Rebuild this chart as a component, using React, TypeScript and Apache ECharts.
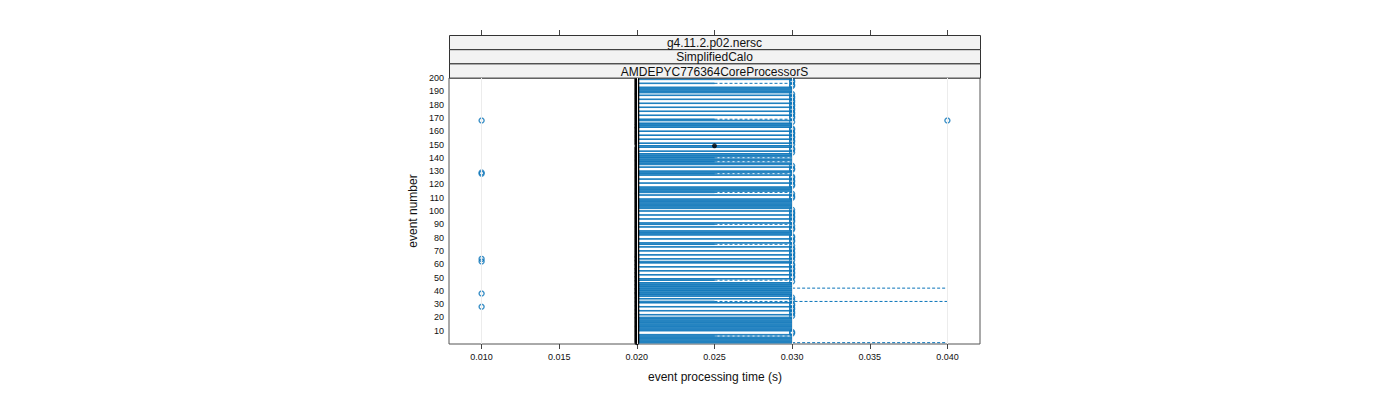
import { useEffect, useRef } from 'react';
import * as echarts from 'echarts';

const FONT = 'Liberation Sans, Arial, sans-serif';
const BLUE = '#0a74b9';

const xTicks = [0.01, 0.015, 0.02, 0.025, 0.03, 0.035, 0.04];
const yTicks = [10, 20, 30, 40, 50, 60, 70, 80, 90, 100, 110, 120, 130, 140, 150, 160, 170, 180, 190, 200];
const stripLabels = ['g4.11.2.p02.nersc', 'SimplifiedCalo', 'AMDEPYC776364CoreProcessorS'];
const xTitle = 'event processing time (s)';
const yTitle = 'event number';

const eventNumbers = Array.from({ length: 200 }, (_, i) => i + 1);

const lowerHinge = [
  0.02, 0.02, 0.02, 0.02, 0.02, 0.02, 0.02, 0.02, 0.02, 0.02, 0.02, 0.02, 0.02, 0.02, 0.02, 0.02, 0.02, 0.02, 0.02, 0.02,
  0.02, 0.02, 0.02, 0.02, 0.02, 0.02, 0.02, 0.02, 0.02, 0.02, 0.02, 0.02, 0.02, 0.02, 0.02, 0.02, 0.02, 0.02, 0.02, 0.02,
  0.02, 0.02, 0.02, 0.02, 0.02, 0.02, 0.02, 0.02, 0.02, 0.02, 0.02, 0.02, 0.02, 0.02, 0.02, 0.02, 0.02, 0.02, 0.02, 0.02,
  0.02, 0.02, 0.02, 0.02, 0.02, 0.02, 0.02, 0.02, 0.02, 0.02, 0.02, 0.02, 0.02, 0.02, 0.02, 0.02, 0.02, 0.02, 0.02, 0.02,
  0.02, 0.02, 0.02, 0.02, 0.02, 0.02, 0.02, 0.02, 0.02, 0.02, 0.02, 0.02, 0.02, 0.02, 0.02, 0.02, 0.02, 0.02, 0.02, 0.02,
  0.02, 0.02, 0.02, 0.02, 0.02, 0.02, 0.02, 0.02, 0.02, 0.02, 0.02, 0.02, 0.02, 0.02, 0.02, 0.02, 0.02, 0.02, 0.02, 0.02,
  0.02, 0.02, 0.02, 0.02, 0.02, 0.02, 0.02, 0.02, 0.02, 0.02, 0.02, 0.02, 0.02, 0.02, 0.02, 0.02, 0.02, 0.02, 0.02, 0.02,
  0.02, 0.02, 0.02, 0.02, 0.02, 0.02, 0.02, 0.02, 0.02, 0.02, 0.02, 0.02, 0.02, 0.02, 0.02, 0.02, 0.02, 0.02, 0.02, 0.02,
  0.02, 0.02, 0.02, 0.02, 0.02, 0.02, 0.02, 0.02, 0.02, 0.02, 0.02, 0.02, 0.02, 0.02, 0.02, 0.02, 0.02, 0.02, 0.02, 0.02,
  0.02, 0.02, 0.02, 0.02, 0.02, 0.02, 0.02, 0.02, 0.02, 0.02, 0.02, 0.02, 0.02, 0.02, 0.02, 0.02, 0.02, 0.02, 0.02, 0.02,
];

const medianValue = [
  0.02, 0.02, 0.02, 0.02, 0.02, 0.02, 0.02, 0.02, 0.02, 0.02, 0.02, 0.02, 0.02, 0.02, 0.02, 0.02, 0.02, 0.02, 0.02, 0.02,
  0.02, 0.02, 0.02, 0.02, 0.02, 0.02, 0.02, 0.02, 0.02, 0.02, 0.02, 0.02, 0.02, 0.02, 0.02, 0.02, 0.02, 0.02, 0.02, 0.02,
  0.02, 0.02, 0.02, 0.02, 0.02, 0.02, 0.02, 0.02, 0.02, 0.02, 0.02, 0.02, 0.02, 0.02, 0.02, 0.02, 0.02, 0.02, 0.02, 0.02,
  0.02, 0.02, 0.02, 0.02, 0.02, 0.02, 0.02, 0.02, 0.02, 0.02, 0.02, 0.02, 0.02, 0.02, 0.02, 0.02, 0.02, 0.02, 0.02, 0.02,
  0.02, 0.02, 0.02, 0.02, 0.02, 0.02, 0.02, 0.02, 0.02, 0.02, 0.02, 0.02, 0.02, 0.02, 0.02, 0.02, 0.02, 0.02, 0.02, 0.02,
  0.02, 0.02, 0.02, 0.02, 0.02, 0.02, 0.02, 0.02, 0.02, 0.02, 0.02, 0.02, 0.02, 0.02, 0.02, 0.02, 0.02, 0.02, 0.02, 0.02,
  0.02, 0.02, 0.02, 0.02, 0.02, 0.02, 0.02, 0.02, 0.02, 0.02, 0.02, 0.02, 0.02, 0.02, 0.02, 0.02, 0.02, 0.02, 0.02, 0.02,
  0.02, 0.02, 0.02, 0.02, 0.02, 0.02, 0.02, 0.02, 0.025, 0.02, 0.02, 0.02, 0.02, 0.02, 0.02, 0.02, 0.02, 0.02, 0.02, 0.02,
  0.02, 0.02, 0.02, 0.02, 0.02, 0.02, 0.02, 0.02, 0.02, 0.02, 0.02, 0.02, 0.02, 0.02, 0.02, 0.02, 0.02, 0.02, 0.02, 0.02,
  0.02, 0.02, 0.02, 0.02, 0.02, 0.02, 0.02, 0.02, 0.02, 0.02, 0.02, 0.02, 0.02, 0.02, 0.02, 0.02, 0.02, 0.02, 0.02, 0.02,
];

const upperHinge = [
  0.03, 0.03, 0.03, 0.03, 0.03, 0.025, 0.03, 0.02, 0.02, 0.03,
  0.03, 0.03, 0.03, 0.03, 0.03, 0.03, 0.03, 0.03, 0.03, 0.03,
  0.02, 0.03, 0.02, 0.02, 0.03, 0.02, 0.02, 0.03, 0.02, 0.02,
  0.03, 0.025, 0.02, 0.03, 0.02, 0.03, 0.03, 0.03, 0.03, 0.03,
  0.03, 0.03, 0.03, 0.03, 0.03, 0.03, 0.02, 0.025, 0.03, 0.02,
  0.02, 0.03, 0.02, 0.02, 0.03, 0.02, 0.02, 0.03, 0.02, 0.02,
  0.03, 0.03, 0.02, 0.03, 0.02, 0.02, 0.03, 0.02, 0.02, 0.03,
  0.02, 0.02, 0.03, 0.02, 0.025, 0.03, 0.02, 0.02, 0.03, 0.02,
  0.02, 0.03, 0.03, 0.03, 0.03, 0.02, 0.02, 0.03, 0.02, 0.025,
  0.03, 0.02, 0.02, 0.03, 0.02, 0.02, 0.03, 0.02, 0.02, 0.03,
  0.02, 0.03, 0.03, 0.03, 0.03, 0.03, 0.03, 0.03, 0.03, 0.02,
  0.02, 0.03, 0.02, 0.025, 0.03, 0.03, 0.03, 0.03, 0.02, 0.02,
  0.03, 0.02, 0.02, 0.03, 0.02, 0.02, 0.03, 0.025, 0.03, 0.03,
  0.02, 0.02, 0.03, 0.02, 0.03, 0.03, 0.025, 0.03, 0.03, 0.025,
  0.03, 0.03, 0.03, 0.02, 0.03, 0.02, 0.02, 0.03, 0.03, 0.02,
  0.03, 0.02, 0.02, 0.03, 0.02, 0.02, 0.03, 0.02, 0.02, 0.03,
  0.02, 0.02, 0.03, 0.03, 0.03, 0.03, 0.02, 0.03, 0.025, 0.02,
  0.02, 0.03, 0.02, 0.02, 0.03, 0.02, 0.02, 0.03, 0.02, 0.02,
  0.03, 0.02, 0.02, 0.03, 0.02, 0.02, 0.03, 0.02, 0.03, 0.03,
  0.03, 0.03, 0.03, 0.02, 0.02, 0.025, 0.02, 0.02, 0.03, 0.02,
];

const upperWhisker = [
  0.04, 0.03, 0.03, 0.03, 0.03, 0.03, 0.03, 0.02, 0.02, 0.03,
  0.03, 0.03, 0.03, 0.03, 0.03, 0.03, 0.03, 0.03, 0.03, 0.03,
  0.02, 0.03, 0.02, 0.02, 0.03, 0.02, 0.02, 0.03, 0.02, 0.02,
  0.03, 0.04, 0.02, 0.03, 0.02, 0.03, 0.03, 0.03, 0.03, 0.03,
  0.03, 0.04, 0.03, 0.03, 0.03, 0.03, 0.02, 0.03, 0.03, 0.02,
  0.02, 0.03, 0.02, 0.02, 0.03, 0.02, 0.02, 0.03, 0.02, 0.02,
  0.03, 0.03, 0.02, 0.03, 0.02, 0.02, 0.03, 0.02, 0.02, 0.03,
  0.02, 0.02, 0.03, 0.02, 0.03, 0.03, 0.02, 0.02, 0.03, 0.02,
  0.02, 0.03, 0.03, 0.03, 0.03, 0.02, 0.02, 0.03, 0.02, 0.03,
  0.03, 0.02, 0.02, 0.03, 0.02, 0.02, 0.03, 0.02, 0.02, 0.03,
  0.02, 0.03, 0.03, 0.03, 0.03, 0.03, 0.03, 0.03, 0.03, 0.02,
  0.02, 0.03, 0.02, 0.03, 0.03, 0.03, 0.03, 0.03, 0.02, 0.02,
  0.03, 0.02, 0.02, 0.03, 0.02, 0.02, 0.03, 0.03, 0.03, 0.03,
  0.02, 0.02, 0.03, 0.02, 0.03, 0.03, 0.03, 0.03, 0.03, 0.03,
  0.03, 0.03, 0.03, 0.02, 0.03, 0.02, 0.02, 0.03, 0.03, 0.02,
  0.03, 0.02, 0.02, 0.03, 0.02, 0.02, 0.03, 0.02, 0.02, 0.03,
  0.02, 0.02, 0.03, 0.03, 0.03, 0.03, 0.02, 0.03, 0.03, 0.02,
  0.02, 0.03, 0.02, 0.02, 0.03, 0.02, 0.02, 0.03, 0.02, 0.02,
  0.03, 0.02, 0.02, 0.03, 0.02, 0.02, 0.03, 0.02, 0.03, 0.03,
  0.03, 0.03, 0.03, 0.02, 0.02, 0.03, 0.02, 0.02, 0.03, 0.02,
];

// [event, time]
const outliers: [number, number][] = [
  [8, 0.03], [9, 0.03], [21, 0.03], [23, 0.03], [24, 0.03], [26, 0.03], [27, 0.03], [29, 0.03], [30, 0.03],
  [33, 0.03], [35, 0.03], [47, 0.03], [50, 0.03], [51, 0.03], [53, 0.03], [54, 0.03], [56, 0.03], [57, 0.03],
  [59, 0.03], [60, 0.03], [63, 0.03], [65, 0.03], [66, 0.03], [68, 0.03], [69, 0.03], [71, 0.03], [72, 0.03],
  [74, 0.03], [77, 0.03], [78, 0.03], [80, 0.03], [81, 0.03], [86, 0.03], [87, 0.03], [89, 0.03], [92, 0.03],
  [93, 0.03], [95, 0.03], [96, 0.03], [98, 0.03], [99, 0.03], [101, 0.03], [110, 0.03], [111, 0.03], [113, 0.03],
  [119, 0.03], [120, 0.03], [122, 0.03], [123, 0.03], [125, 0.03], [126, 0.03], [131, 0.03], [132, 0.03],
  [134, 0.03], [144, 0.03], [146, 0.03], [147, 0.03], [150, 0.03], [152, 0.03], [153, 0.03], [155, 0.03],
  [156, 0.03], [158, 0.03], [159, 0.03], [161, 0.03], [162, 0.03], [167, 0.03], [170, 0.03], [171, 0.03],
  [173, 0.03], [174, 0.03], [176, 0.03], [177, 0.03], [179, 0.03], [180, 0.03], [182, 0.03], [183, 0.03],
  [185, 0.03], [186, 0.03], [188, 0.03], [194, 0.03], [195, 0.03], [197, 0.03], [198, 0.03], [200, 0.03],
  [28, 0.01], [38, 0.01], [62, 0.01], [64, 0.01], [128, 0.01], [129, 0.01], [168, 0.01], [168, 0.04],
];

const X_MIN = 0.0079;
const X_MAX = 0.0421;

const GRID = { left: 449, top: 78, width: 531, height: 266 };
const STRIP_TOP = 35.5;
const STRIP_H = 14.2;

export default function App() {
  const ref = useRef<HTMLDivElement>(null);

  useEffect(() => {
    document.body.style.margin = '0';
    const chart = echarts.init(ref.current!, null, { renderer: 'svg' });

    const boxData = eventNumbers.map((ev, i) => [ev, lowerHinge[i], medianValue[i], upperHinge[i], upperWhisker[i]]);
    const medianData = eventNumbers.map((ev, i) => [medianValue[i], ev]);
    const outlierData = outliers.map(([ev, t]) => [t, ev]);

    const graphics: any[] = [];
    stripLabels.forEach((label, i) => {
      const y = STRIP_TOP + i * STRIP_H;
      graphics.push({
        type: 'rect',
        shape: { x: GRID.left + 0.5, y: y, width: GRID.width, height: STRIP_H },
        style: { fill: '#f2f2f2', stroke: '#333', lineWidth: 1 },
        z: 5,
      });
      graphics.push({
        type: 'text',
        x: GRID.left + GRID.width / 2,
        y: y + STRIP_H / 2 + 0.5,
        style: { text: label, fontSize: 12, fontFamily: FONT, fill: '#111', align: 'center', verticalAlign: 'middle' },
        z: 6,
      });
    });
    graphics.push({
      type: 'text',
      x: 715,
      y: 377,
      style: { text: xTitle, fontSize: 12, fontFamily: FONT, fill: '#111', align: 'center', verticalAlign: 'middle' },
    });
    graphics.push({
      type: 'text',
      x: 413,
      y: 211,
      rotation: Math.PI / 2,
      style: { text: yTitle, fontSize: 12, fontFamily: FONT, fill: '#111', align: 'center', verticalAlign: 'middle' },
    });

    const option: any = {
      animation: false,
      backgroundColor: '#ffffff',
      grid: { ...GRID, show: true, borderColor: '#555', borderWidth: 1, backgroundColor: 'transparent' },
      xAxis: [
        {
          type: 'value',
          min: X_MIN,
          max: X_MAX,
          axisLine: { show: false },
          axisTick: { show: true, customValues: xTicks, length: 5, lineStyle: { color: '#444' } },
          axisLabel: {
            customValues: xTicks,
            formatter: (v: number) => v.toFixed(3),
            fontSize: 9,
            fontFamily: FONT,
            color: '#111',
            margin: 8,
          },
          splitLine: { show: false },
        },
        {
          type: 'value',
          position: 'top',
          offset: GRID.top - STRIP_TOP - 0.5,
          min: X_MIN,
          max: X_MAX,
          axisLine: { show: false },
          axisTick: { show: true, customValues: xTicks, length: 6, lineStyle: { color: '#444' } },
          axisLabel: { show: false },
          splitLine: { show: false },
        },
      ],
      yAxis: {
        type: 'value',
        min: 0,
        max: 200,
        axisLine: { show: false },
        axisTick: { show: false },
        axisLabel: { customValues: yTicks, fontSize: 9, fontFamily: FONT, color: '#111', margin: 5 },
        splitLine: { show: false },
      },
      graphic: graphics,
      series: [
        {
          type: 'scatter',
          data: [],
          z: 1,
          markLine: {
            silent: true,
            symbol: ['none', 'none'],
            label: { show: false },
            lineStyle: { color: '#ececec', width: 1, type: 'solid' },
            data: xTicks.map((v) => ({ xAxis: v })),
          },
        },
        {
          type: 'custom',
          z: 2,
          clip: true,
          data: boxData,
          encode: { x: [1, 2, 3, 4], y: 0 },
          renderItem: (params: any, api: any) => {
            const ev = api.value(0);
            const q1 = api.value(1);
            const q3 = api.value(3);
            const up = api.value(4);
            const p1 = api.coord([q1, ev]);
            const p3 = api.coord([q3, ev]);
            const pu = api.coord([up, ev]);
            const h = api.size([0, 0.45])[1];
            const children: any[] = [];
            if (q3 > q1) {
              children.push({
                type: 'rect',
                shape: { x: p1[0], y: p1[1] - h / 2, width: p3[0] - p1[0], height: h },
                style: { fill: 'none', stroke: BLUE, lineWidth: 0.9 },
              });
            }
            if (up > q3) {
              children.push({
                type: 'line',
                shape: { x1: p3[0], y1: p3[1], x2: pu[0], y2: pu[1] },
                style: { stroke: BLUE, lineWidth: 1, lineDash: [3, 2] },
              });
            }
            return { type: 'group', children };
          },
        },
        {
          type: 'scatter',
          z: 3,
          data: medianData,
          symbol: 'circle',
          symbolSize: 5,
          itemStyle: { color: '#000' },
          silent: true,
        },
        {
          type: 'scatter',
          z: 4,
          data: outlierData,
          symbol: 'circle',
          symbolSize: 5,
          itemStyle: { color: 'rgba(0,0,0,0)', borderColor: BLUE, borderWidth: 1.4 },
          silent: true,
        },
      ],
    };

    chart.setOption(option);
    return () => chart.dispose();
  }, []);

  return <div ref={ref} style={{ width: 1400, height: 400 }} />;
}
